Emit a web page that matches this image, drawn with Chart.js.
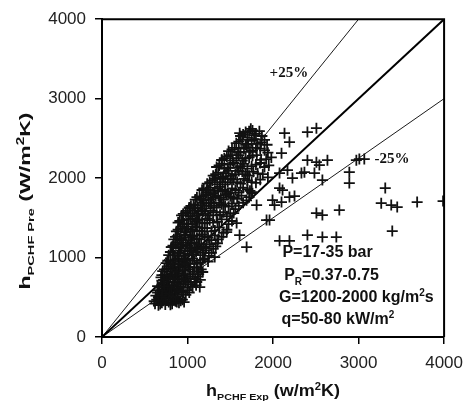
<!DOCTYPE html>
<html>
<head>
<meta charset="utf-8">
<script src="https://cdn.jsdelivr.net/npm/chart.js@4/dist/chart.umd.min.js"></script>
<style>
  html, body { margin: 0; padding: 0; background: #fff; }
  #wrap { width: 472px; height: 401px; }
</style>
</head>
<body>
<div id="wrap"><canvas id="chart_canvas" width="472" height="401"></canvas></div>
<script>
// measured (experimental) heat transfer coefficient, W/m2K
const exp_h = [
  620, 660, 700, 740, 780, 820, 860, 900, 640, 700, 760, 820, 880, 940, 875,
  630, 680, 720, 760, 800, 850, 900, 950, 1000, 660, 740, 820, 880,
  650, 700, 750, 780, 830, 880, 920, 980, 1040, 1080, 700, 760, 1143, 1108,
  690, 730, 780, 820, 860, 900, 950, 1000, 1060, 1120, 1150,
  710, 760, 800, 850, 890, 940, 980, 1030, 1080, 1130, 1178,
  750, 800, 840, 890, 930, 980, 1030, 1080, 1150, 1200, 1318,
  780, 830, 880, 920, 970, 1020, 1070, 1120, 1180, 1250,
  810, 860, 900, 950, 1000, 1050, 1100, 1160, 1220, 1300, 1350, 816,
  840, 880, 930, 980, 1030, 1080, 1140, 1200, 1280, 1400, 1609,
  870, 920, 970, 1010, 1060, 1110, 1170, 1230, 1320, 1420, 1458,
  890, 940, 990, 1040, 1090, 1140, 1200, 1260, 1350, 1480, 1574,
  930, 980, 1030, 1080, 1130, 1180, 1240, 1300, 1380, 1460, 1540, 1924,
  1020, 1070, 1120, 1170, 1220, 1280, 1340, 1400, 1480, 1560, 1650, 1026, 1808,
  1090, 1140, 1190, 1240, 1300, 1360, 1420, 1500, 1580, 1690,
  1170, 1220, 1270, 1320, 1380, 1440, 1520, 1600, 1700, 1760, 1224, 1749,
  1230, 1290, 1350, 1410, 1470, 1540, 1620, 1700, 1800,
  1300, 1360, 1420, 1480, 1560, 1640, 1720, 1820, 1940,
  1340, 1400, 1470, 1540, 1620, 1700, 1800, 1900, 1400,
  1400, 1460, 1530, 1600, 1680, 1760, 1860, 1980,
  1480, 1550, 1620, 1690, 1760, 1850, 1940,
  1570, 1640, 1710, 1780, 1860, 1930, 1610,
  1620, 1680, 1740, 1800, 1870, 1700,
  // second pass through the dense band
  610, 680, 720, 800, 840, 920, 960, 660, 740, 860,
  650, 700, 780, 830, 870, 930, 980, 1020, 710, 790,
  670, 720, 770, 810, 850, 900, 950, 1010, 1060, 1100, 730, 960,
  700, 750, 800, 840, 880, 930, 980, 1030, 1090, 1130, 720,
  730, 780, 820, 870, 910, 960, 1010, 1060, 1110, 1160,
  770, 820, 860, 910, 960, 1000, 1060, 1110, 1180, 1240,
  800, 850, 900, 950, 1000, 1050, 1100, 1150, 1210, 1280,
  830, 880, 930, 980, 1030, 1080, 1130, 1190, 1260, 1330,
  860, 910, 960, 1010, 1060, 1110, 1170, 1240, 1320, 1360,
  890, 940, 990, 1040, 1090, 1140, 1200, 1280, 1370, 1460,
  910, 960, 1010, 1060, 1120, 1170, 1230, 1300, 1400, 1520,
  950, 1000, 1060, 1110, 1160, 1210, 1270, 1340, 1420, 1500,
  1040, 1090, 1150, 1200, 1250, 1310, 1370, 1440, 1520, 1600,
  1110, 1160, 1210, 1270, 1330, 1390, 1460, 1540, 1630, 1720,
  1190, 1250, 1300, 1350, 1410, 1480, 1560, 1650, 1730,
  1260, 1320, 1380, 1440, 1500, 1580, 1660, 1750, 1850,
  1330, 1390, 1450, 1520, 1600, 1680, 1770, 1880,
  1370, 1430, 1500, 1580, 1660, 1750, 1850, 1950,
  1430, 1500, 1570, 1640, 1720, 1810, 1920,
  1520, 1590, 1660, 1730, 1800, 1900,
  1600, 1680, 1750, 1820, 1900,
  1650, 1720, 1780, 1840, 1760,
  // scattered points right of the main band
  2402, 2507, 2134, 2192, 2099, 2402, 2507, 2542, 2636, 2367, 2484, 2577,
  2227, 2332, 2076, 2169, 2111, 2251, 1994, 2099, 2017, 1959, 2076, 2192,
  2974, 2892, 2892, 3009, 3067,
  1691, 2076, 2192, 2402, 2577, 2740, 2507, 2577, 2775,
  3312, 3265, 3382, 3452, 3685, 3988, 3394
];

// predicted heat transfer coefficient, W/m2K
const pre_h = [
  420, 400, 430, 410, 440, 420, 450, 430, 470, 480, 460, 490, 480, 470, 440,
  520, 540, 510, 560, 530, 570, 540, 560, 590, 590, 600, 580, 610,
  640, 660, 620, 690, 650, 680, 640, 700, 660, 690, 710, 730, 629, 692,
  750, 780, 740, 790, 760, 800, 770, 740, 790, 760, 720,
  830, 860, 820, 880, 840, 870, 900, 850, 880, 830, 818,
  930, 960, 910, 990, 950, 980, 920, 960, 940, 990, 1006,
  1030, 1060, 1020, 1090, 1050, 1080, 1040, 1100, 1060, 1020,
  1130, 1170, 1120, 1190, 1150, 1180, 1130, 1170, 1140, 1110, 1180, 1132,
  1230, 1270, 1220, 1290, 1250, 1280, 1230, 1270, 1220, 1260, 1283,
  1330, 1370, 1320, 1390, 1350, 1380, 1330, 1370, 1340, 1310, 1321,
  1440, 1470, 1420, 1490, 1450, 1480, 1430, 1470, 1450, 1420, 1434,
  1530, 1570, 1520, 1590, 1550, 1580, 1530, 1570, 1540, 1520, 1560, 1472,
  1630, 1670, 1620, 1690, 1650, 1680, 1630, 1670, 1640, 1610, 1690, 1623, 1660,
  1730, 1770, 1720, 1790, 1750, 1780, 1730, 1770, 1740, 1720,
  1850, 1820, 1880, 1840, 1890, 1830, 1870, 1820, 1860, 1810, 1849, 1824,
  1930, 1970, 1920, 1990, 1950, 1980, 1930, 1970, 1940,
  2030, 2070, 2020, 2090, 2050, 2080, 2030, 2060, 2010,
  2140, 2180, 2130, 2190, 2150, 2120, 2170, 2140, 2226,
  2230, 2270, 2220, 2290, 2250, 2280, 2230, 2260,
  2340, 2380, 2330, 2390, 2350, 2370, 2320,
  2440, 2480, 2430, 2490, 2450, 2420, 2566,
  2530, 2580, 2620, 2560, 2530, 2510,
  // second pass through the dense band
  450, 415, 455, 405, 465, 455, 440, 500, 495, 505,
  560, 525, 545, 515, 595, 575, 530, 560, 580, 610,
  625, 680, 650, 630, 700, 665, 620, 680, 630, 650, 640, 720,
  780, 760, 770, 730, 780, 740, 790, 760, 730, 790, 720,
  850, 890, 850, 820, 890, 840, 880, 820, 870, 850,
  960, 930, 970, 920, 960, 930, 990, 920, 970, 950,
  1070, 1030, 1060, 1020, 1090, 1040, 1070, 1030, 1090, 1060,
  1150, 1190, 1140, 1170, 1120, 1190, 1160, 1120, 1170, 1140,
  1260, 1240, 1280, 1220, 1270, 1240, 1290, 1250, 1280, 1230,
  1350, 1390, 1360, 1330, 1390, 1340, 1370, 1330, 1380, 1350,
  1460, 1430, 1480, 1420, 1470, 1440, 1490, 1440, 1480, 1460,
  1550, 1590, 1560, 1530, 1590, 1550, 1590, 1530, 1570, 1550,
  1650, 1630, 1660, 1620, 1690, 1650, 1690, 1650, 1680, 1650,
  1760, 1740, 1780, 1730, 1770, 1750, 1790, 1750, 1780, 1760,
  1870, 1850, 1810, 1870, 1850, 1810, 1850, 1880, 1840,
  1950, 1990, 1950, 1920, 1990, 1950, 1990, 1950, 1980,
  2050, 2010, 2060, 2030, 2090, 2050, 2080, 2050,
  2160, 2120, 2170, 2130, 2180, 2150, 2190, 2160,
  2250, 2290, 2250, 2220, 2260, 2290, 2240,
  2360, 2320, 2370, 2330, 2380, 2350,
  2460, 2420, 2470, 2430, 2480,
  2550, 2590, 2540, 2590, 2600,
  // scattered points right of the main band
  2579, 2629, 2566, 2453, 2314, 2226, 2201, 2164, 2226, 2075, 2063, 1975,
  2000, 2063, 2063, 2100, 1849, 1774, 1723, 1698, 1660, 1472, 1874, 1761,
  2226, 2075, 1937, 2239, 2239,
  1132, 1210, 1210, 1283, 1258, 1258, 1560, 1535, 1598,
  1874, 1685, 1660, 1635, 1698, 1711, 1333
];

const axis_ticks = [0, 1000, 2000, 3000, 4000];
const plus25_line = [{ x: 0, y: 0 }, { x: 3000, y: 4000 }];
const parity_line = [{ x: 0, y: 0 }, { x: 4000, y: 4000 }];
const minus25_line = [{ x: 0, y: 0 }, { x: 4000, y: 3000 }];

const conditions = [
  { x: 2110, y: 1010, parts: [['P=17-35 bar', 16, 0]] },
  { x: 2130, y: 720, parts: [['P', 16, 0], ['R', 10, 5], ['=0.37-0.75', 16, 0]] },
  { x: 2070, y: 440, parts: [['G=1200-2000 kg/m', 16, 0], ['2', 10, -6], ['s', 16, 0]] },
  { x: 2100, y: 160, parts: [['q=50-80 kW/m', 16, 0], ['2', 10, -6]] }
];

const SANS = '"Liberation Sans", Arial, sans-serif';
const SERIF = '"Liberation Serif", "Times New Roman", serif';

function rich_width(ctx, parts) {
  let w = 0;
  for (const p of parts) {
    ctx.font = 'bold ' + p[1] + 'px ' + SANS;
    w += ctx.measureText(p[0]).width;
  }
  return w;
}

function draw_rich(ctx, parts, x, y) {
  let cx = x;
  for (const p of parts) {
    ctx.font = 'bold ' + p[1] + 'px ' + SANS;
    ctx.fillText(p[0], cx, y + p[2]);
    cx += ctx.measureText(p[0]).width;
  }
}

// draws a title centred on (x, y), stretched to the given length
function draw_title(ctx, parts, x, y, length, angle) {
  const w = rich_width(ctx, parts);
  ctx.save();
  ctx.translate(x, y);
  ctx.rotate(angle);
  ctx.scale(length / w, 1);
  draw_rich(ctx, parts, -w / 2, 0);
  ctx.restore();
}

const decorations = {
  id: 'decorations',
  afterDraw(chart) {
    const ctx = chart.ctx;
    const area = chart.chartArea;
    const xs = chart.scales.x;
    const ys = chart.scales.y;
    ctx.save();

    // top and right frame
    ctx.strokeStyle = '#000';
    ctx.lineWidth = 2;
    ctx.beginPath();
    ctx.moveTo(area.left, area.top);
    ctx.lineTo(area.right, area.top);
    ctx.lineTo(area.right, area.bottom);
    ctx.stroke();

    ctx.fillStyle = '#111';
    ctx.textBaseline = 'alphabetic';
    ctx.textAlign = 'left';

    // +25% / -25% labels
    ctx.font = 'bold 15px ' + SERIF;
    ctx.fillText('+25%', xs.getPixelForValue(1960), ys.getPixelForValue(3275));
    ctx.fillText('-25%', xs.getPixelForValue(3185), ys.getPixelForValue(2190));

    // test conditions
    for (const c of conditions) {
      draw_rich(ctx, c.parts, xs.getPixelForValue(c.x), ys.getPixelForValue(c.y));
    }

    const x_title = [['h', 16, 0], ['PCHF Exp', 9.5, 4], [' (w/m', 16, 0], ['2', 10, -6], ['K)', 16, 0]];
    draw_title(ctx, x_title, (area.left + area.right) / 2, 396, 134, 0);

    const y_title = [['h', 15, 0], ['PCHF Pre', 9.5, 4], [' (W/m', 15, 0], ['2', 10, -6], ['K)', 15, 0]];
    draw_title(ctx, y_title, 30, 201, 177, -Math.PI / 2);

    ctx.restore();
  }
};

const scatter_points = exp_h.map((v, i) => ({ x: v, y: pre_h[i] }));

function ref_line(data, width) {
  return {
    type: 'line',
    data: data,
    borderColor: '#000',
    borderWidth: width,
    pointRadius: 0,
    fill: false,
    tension: 0
  };
}

function axis_options(fit) {
  return {
    type: 'linear',
    min: 0,
    max: 4000,
    afterBuildTicks: (scale) => {
      scale.ticks = axis_ticks.map((v) => ({ value: v }));
    },
    afterFit: fit,
    ticks: {
      color: '#222',
      padding: 9,
      font: { family: SANS, size: 17 },
      callback: (v) => String(v)
    },
    grid: {
      drawOnChartArea: false,
      drawTicks: true,
      tickLength: 7,
      color: '#000',
      lineWidth: 1.5
    },
    border: { display: true, color: '#000', width: 2 }
  };
}

new Chart(document.getElementById('chart_canvas'), {
  type: 'scatter',
  data: {
    datasets: [
      {
        data: scatter_points,
        pointStyle: 'cross',
        pointRadius: 5.5,
        pointBorderWidth: 1.8,
        borderColor: '#111',
        backgroundColor: '#111'
      },
      ref_line(plus25_line, 0.9),
      ref_line(parity_line, 2),
      ref_line(minus25_line, 0.9)
    ]
  },
  options: {
    responsive: false,
    animation: false,
    layout: { padding: { top: 19, right: 27, left: 0, bottom: 0 } },
    plugins: {
      legend: { display: false },
      tooltip: { enabled: false }
    },
    scales: {
      x: axis_options((scale) => { scale.height = 64; }),
      y: axis_options((scale) => { scale.width = 102; })
    }
  },
  plugins: [decorations]
});
</script>
</body>
</html>
